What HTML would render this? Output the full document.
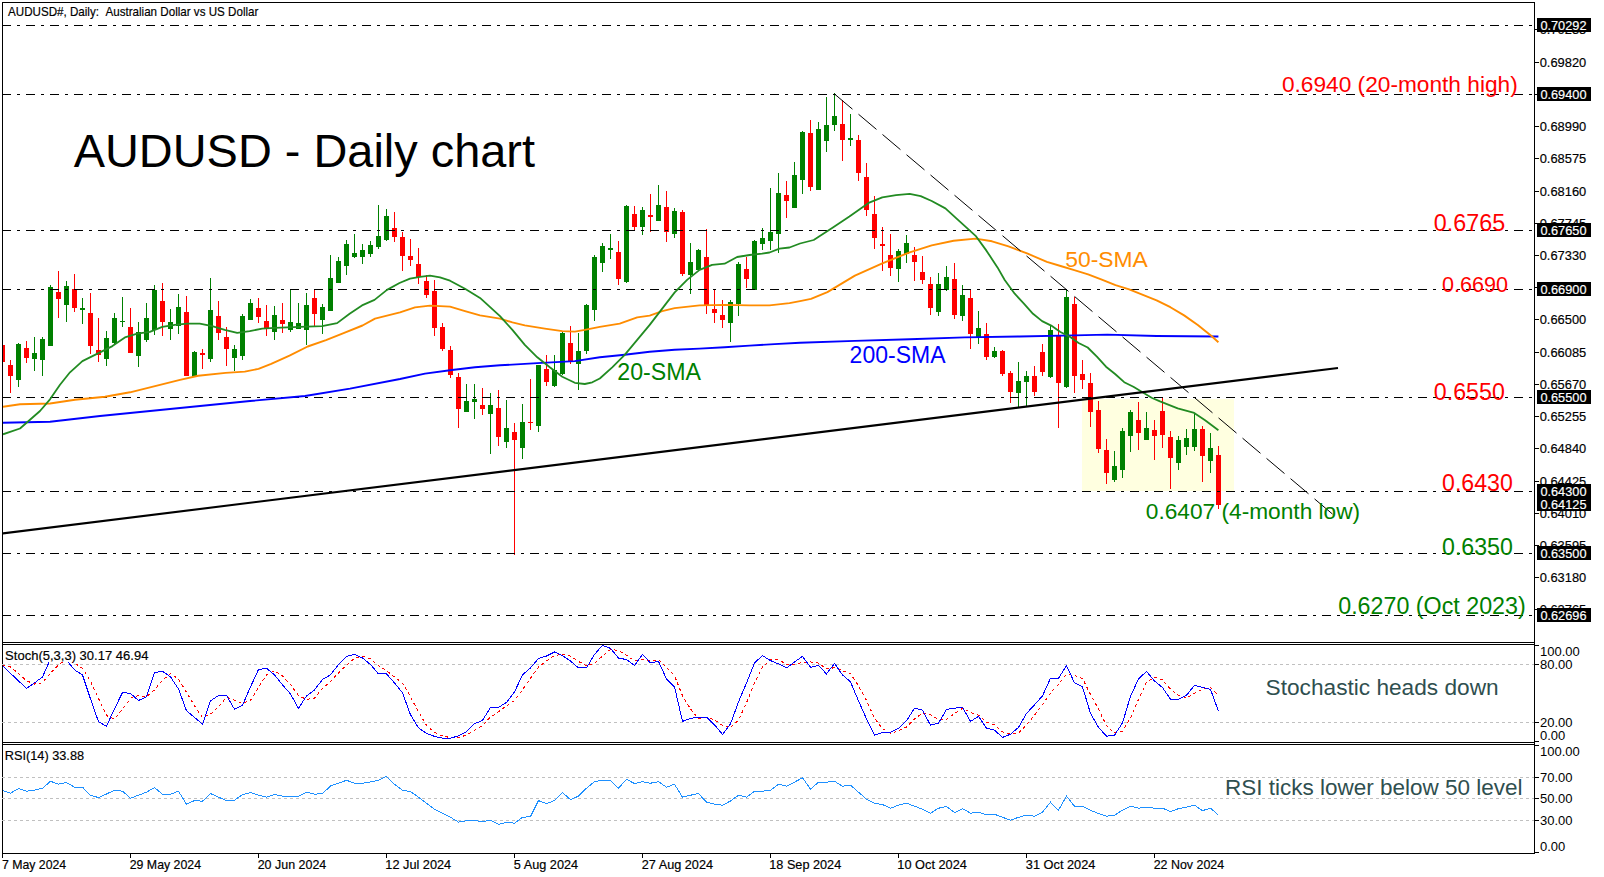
<!DOCTYPE html>
<html lang="en"><head><meta charset="utf-8"><title>AUDUSD - Daily chart</title>
<style>
html,body{margin:0;padding:0;background:#fff;}
body{width:1604px;height:877px;overflow:hidden;}
svg{display:block;}
text{font-family:"Liberation Sans",Arial,sans-serif;}
.s{font-size:13px;fill:#000;}
.w{font-size:13px;fill:#fff;}
.g{stroke:#000;stroke-width:1;stroke-dasharray:9 6 3 6;fill:none;}
.lv{stroke:#c0c0c0;stroke-width:1;stroke-dasharray:3 3;fill:none;}
.b{stroke:#000;stroke-width:1;fill:none;}
.r rect{fill:#f00}.r path{stroke:#f00}
.u rect{fill:#008000}.u path{stroke:#008000}
</style></head><body>
<svg width="1604" height="877" viewBox="0 0 1604 877" shape-rendering="auto">
<rect x="0" y="0" width="1604" height="877" fill="#fff"/>
<defs><clipPath id="cm"><rect x="3" y="3" width="1531" height="639"/></clipPath><clipPath id="cs"><rect x="3" y="645" width="1531" height="97"/></clipPath><clipPath id="cr"><rect x="3" y="745" width="1531" height="108"/></clipPath></defs>
<g clip-path="url(#cm)">
<rect x="1082" y="399" width="152" height="92" fill="#ffffe0"/>
<g class="r" shape-rendering="crispEdges"><path d="M2.5 340V366"/><rect x="0" y="345" width="5" height="17"/><path d="M10.5 360V393"/><rect x="8" y="365" width="5" height="11"/><path d="M26.5 341V363"/><rect x="24" y="348" width="5" height="10"/><path d="M58.5 271V318"/><rect x="56" y="292" width="5" height="7"/><path d="M74.5 274V312"/><rect x="72" y="289" width="5" height="19"/><path d="M90.5 293V354"/><rect x="88" y="313" width="5" height="33"/><path d="M98.5 318V362"/><rect x="96" y="350" width="5" height="5"/><path d="M130.5 308V353"/><rect x="128" y="327" width="5" height="26"/><path d="M162.5 283V336"/><rect x="160" y="301" width="5" height="21"/><path d="M186.5 296V376"/><rect x="184" y="312" width="5" height="64"/><path d="M202.5 349V369"/><rect x="200" y="353" width="5" height="2"/><path d="M218.5 301V340"/><rect x="216" y="316" width="5" height="17"/><path d="M226.5 327V366"/><rect x="224" y="337" width="5" height="12"/><path d="M258.5 298V323"/><rect x="256" y="308" width="5" height="9"/><path d="M266.5 305V336"/><rect x="264" y="321" width="5" height="7"/><path d="M282.5 303V333"/><rect x="280" y="320" width="5" height="4"/><path d="M314.5 289V326"/><rect x="312" y="298" width="5" height="16"/><path d="M394.5 212V242"/><rect x="392" y="228" width="5" height="9"/><path d="M402.5 232V271"/><rect x="400" y="237" width="5" height="19"/><path d="M410.5 239V266"/><rect x="408" y="256" width="5" height="4"/><path d="M418.5 248V284"/><rect x="416" y="264" width="5" height="13"/><path d="M426.5 275V298"/><rect x="424" y="281" width="5" height="14"/><path d="M434.5 280V336"/><rect x="432" y="291" width="5" height="37"/><path d="M442.5 323V351"/><rect x="440" y="327" width="5" height="22"/><path d="M450.5 346V378"/><rect x="448" y="350" width="5" height="25"/><path d="M458.5 373V428"/><rect x="456" y="377" width="5" height="32"/><path d="M482.5 388V415"/><rect x="480" y="405" width="5" height="4"/><path d="M498.5 390V446"/><rect x="496" y="408" width="5" height="29"/><path d="M514.5 423V555"/><rect x="512" y="432" width="5" height="8"/><path d="M530.5 379V430"/><rect x="528" y="422" width="5" height="1"/><path d="M546.5 355V386"/><rect x="544" y="369" width="5" height="13"/><path d="M570.5 326V364"/><rect x="568" y="343" width="5" height="18"/><path d="M618.5 241V285"/><rect x="616" y="252" width="5" height="27"/><path d="M634.5 206V230"/><rect x="632" y="214" width="5" height="13"/><path d="M650.5 194V232"/><rect x="648" y="215" width="5" height="2"/><path d="M666.5 191V242"/><rect x="664" y="207" width="5" height="25"/><path d="M682.5 210V276"/><rect x="680" y="212" width="5" height="62"/><path d="M706.5 229V314"/><rect x="704" y="257" width="5" height="48"/><path d="M714.5 290V323"/><rect x="712" y="309" width="5" height="4"/><path d="M722.5 300V328"/><rect x="720" y="315" width="5" height="5"/><path d="M746.5 257V288"/><rect x="744" y="269" width="5" height="10"/><path d="M786.5 181V218"/><rect x="784" y="195" width="5" height="6"/><path d="M810.5 120V191"/><rect x="808" y="133" width="5" height="54"/><path d="M842.5 100V161"/><rect x="840" y="124" width="5" height="16"/><path d="M858.5 135V181"/><rect x="856" y="140" width="5" height="33"/><path d="M866.5 163V216"/><rect x="864" y="177" width="5" height="33"/><path d="M874.5 196V249"/><rect x="872" y="214" width="5" height="24"/><path d="M882.5 227V271"/><rect x="880" y="244" width="5" height="2"/><path d="M890.5 234V276"/><rect x="888" y="255" width="5" height="13"/><path d="M914.5 247V281"/><rect x="912" y="255" width="5" height="7"/><path d="M922.5 256V284"/><rect x="920" y="272" width="5" height="8"/><path d="M930.5 277V315"/><rect x="928" y="284" width="5" height="24"/><path d="M954.5 263V319"/><rect x="952" y="279" width="5" height="36"/><path d="M970.5 289V349"/><rect x="968" y="298" width="5" height="36"/><path d="M986.5 323V360"/><rect x="984" y="334" width="5" height="23"/><path d="M1002.5 350V376"/><rect x="1000" y="351" width="5" height="23"/><path d="M1010.5 371V403"/><rect x="1008" y="373" width="5" height="19"/><path d="M1034.5 366V396"/><rect x="1032" y="376" width="5" height="16"/><path d="M1042.5 344V376"/><rect x="1040" y="352" width="5" height="20"/><path d="M1058.5 324V428"/><rect x="1056" y="336" width="5" height="47"/><path d="M1074.5 297V393"/><rect x="1072" y="304" width="5" height="72"/><path d="M1082.5 360V389"/><rect x="1080" y="374" width="5" height="6"/><path d="M1090.5 373V427"/><rect x="1088" y="383" width="5" height="29"/><path d="M1098.5 401V453"/><rect x="1096" y="410" width="5" height="39"/><path d="M1106.5 439V484"/><rect x="1104" y="450" width="5" height="23"/><path d="M1138.5 402V450"/><rect x="1136" y="420" width="5" height="13"/><path d="M1154.5 420V460"/><rect x="1152" y="430" width="5" height="6"/><path d="M1162.5 397V448"/><rect x="1160" y="411" width="5" height="24"/><path d="M1170.5 431V489"/><rect x="1168" y="437" width="5" height="21"/><path d="M1202.5 426V482"/><rect x="1200" y="429" width="5" height="27"/><path d="M1218.5 446V509"/><rect x="1216" y="455" width="5" height="50"/></g>
<g class="u" shape-rendering="crispEdges"><path d="M18.5 343V387"/><rect x="16" y="344" width="5" height="36"/><path d="M34.5 337V371"/><rect x="32" y="353" width="5" height="6"/><path d="M42.5 337V376"/><rect x="40" y="339" width="5" height="21"/><path d="M50.5 285V346"/><rect x="48" y="287" width="5" height="59"/><path d="M66.5 281V322"/><rect x="64" y="286" width="5" height="19"/><path d="M82.5 298V324"/><rect x="80" y="308" width="5" height="2"/><path d="M106.5 331V366"/><rect x="104" y="338" width="5" height="21"/><path d="M114.5 313V345"/><rect x="112" y="318" width="5" height="25"/><path d="M122.5 297V327"/><rect x="120" y="321" width="5" height="1"/><path d="M138.5 322V367"/><rect x="136" y="332" width="5" height="24"/><path d="M146.5 303V342"/><rect x="144" y="318" width="5" height="22"/><path d="M154.5 285V335"/><rect x="152" y="290" width="5" height="40"/><path d="M170.5 309V340"/><rect x="168" y="322" width="5" height="7"/><path d="M178.5 294V334"/><rect x="176" y="307" width="5" height="19"/><path d="M194.5 351V377"/><rect x="192" y="352" width="5" height="25"/><path d="M210.5 278V362"/><rect x="208" y="310" width="5" height="49"/><path d="M234.5 345V371"/><rect x="232" y="349" width="5" height="9"/><path d="M242.5 314V360"/><rect x="240" y="316" width="5" height="40"/><path d="M250.5 299V320"/><rect x="248" y="303" width="5" height="17"/><path d="M274.5 306V340"/><rect x="272" y="315" width="5" height="17"/><path d="M290.5 289V332"/><rect x="288" y="322" width="5" height="8"/><path d="M298.5 303V329"/><rect x="296" y="323" width="5" height="6"/><path d="M306.5 293V345"/><rect x="304" y="305" width="5" height="25"/><path d="M322.5 304V334"/><rect x="320" y="307" width="5" height="13"/><path d="M330.5 255V311"/><rect x="328" y="278" width="5" height="33"/><path d="M338.5 257V283"/><rect x="336" y="261" width="5" height="22"/><path d="M346.5 240V275"/><rect x="344" y="244" width="5" height="22"/><path d="M354.5 234V258"/><rect x="352" y="253" width="5" height="4"/><path d="M362.5 244V264"/><rect x="360" y="250" width="5" height="7"/><path d="M370.5 241V257"/><rect x="368" y="245" width="5" height="9"/><path d="M378.5 205V249"/><rect x="376" y="236" width="5" height="11"/><path d="M386.5 209V241"/><rect x="384" y="216" width="5" height="24"/><path d="M466.5 384V412"/><rect x="464" y="401" width="5" height="11"/><path d="M474.5 384V419"/><rect x="472" y="399" width="5" height="3"/><path d="M490.5 393V454"/><rect x="488" y="405" width="5" height="9"/><path d="M506.5 400V448"/><rect x="504" y="428" width="5" height="14"/><path d="M522.5 404V459"/><rect x="520" y="422" width="5" height="26"/><path d="M538.5 365V432"/><rect x="536" y="365" width="5" height="61"/><path d="M554.5 355V387"/><rect x="552" y="370" width="5" height="16"/><path d="M562.5 332V375"/><rect x="560" y="333" width="5" height="41"/><path d="M578.5 333V390"/><rect x="576" y="351" width="5" height="13"/><path d="M586.5 304V354"/><rect x="584" y="305" width="5" height="46"/><path d="M594.5 255V321"/><rect x="592" y="257" width="5" height="53"/><path d="M602.5 243V272"/><rect x="600" y="246" width="5" height="17"/><path d="M610.5 234V259"/><rect x="608" y="248" width="5" height="2"/><path d="M626.5 205V283"/><rect x="624" y="206" width="5" height="76"/><path d="M642.5 207V235"/><rect x="640" y="210" width="5" height="17"/><path d="M658.5 185V221"/><rect x="656" y="205" width="5" height="16"/><path d="M674.5 208V238"/><rect x="672" y="211" width="5" height="23"/><path d="M690.5 243V294"/><rect x="688" y="262" width="5" height="13"/><path d="M698.5 249V270"/><rect x="696" y="250" width="5" height="20"/><path d="M730.5 300V342"/><rect x="728" y="302" width="5" height="21"/><path d="M738.5 262V316"/><rect x="736" y="264" width="5" height="40"/><path d="M754.5 240V290"/><rect x="752" y="241" width="5" height="49"/><path d="M762.5 228V250"/><rect x="760" y="238" width="5" height="6"/><path d="M770.5 188V250"/><rect x="768" y="232" width="5" height="9"/><path d="M778.5 173V253"/><rect x="776" y="193" width="5" height="41"/><path d="M794.5 162V208"/><rect x="792" y="175" width="5" height="33"/><path d="M802.5 131V194"/><rect x="800" y="132" width="5" height="48"/><path d="M818.5 122V190"/><rect x="816" y="129" width="5" height="61"/><path d="M826.5 97V152"/><rect x="824" y="125" width="5" height="16"/><path d="M834.5 93V131"/><rect x="832" y="116" width="5" height="9"/><path d="M850.5 114V146"/><rect x="848" y="138" width="5" height="2"/><path d="M898.5 249V282"/><rect x="896" y="251" width="5" height="18"/><path d="M906.5 235V263"/><rect x="904" y="243" width="5" height="11"/><path d="M938.5 273V316"/><rect x="936" y="284" width="5" height="28"/><path d="M946.5 266V291"/><rect x="944" y="277" width="5" height="13"/><path d="M962.5 285V321"/><rect x="960" y="295" width="5" height="21"/><path d="M978.5 311V344"/><rect x="976" y="328" width="5" height="9"/><path d="M994.5 347V358"/><rect x="992" y="351" width="5" height="6"/><path d="M1018.5 362V407"/><rect x="1016" y="381" width="5" height="12"/><path d="M1026.5 371V406"/><rect x="1024" y="376" width="5" height="6"/><path d="M1050.5 326V378"/><rect x="1048" y="330" width="5" height="47"/><path d="M1066.5 290V388"/><rect x="1064" y="297" width="5" height="90"/><path d="M1114.5 451V482"/><rect x="1112" y="466" width="5" height="14"/><path d="M1122.5 428V478"/><rect x="1120" y="431" width="5" height="39"/><path d="M1130.5 410V452"/><rect x="1128" y="412" width="5" height="24"/><path d="M1146.5 412V440"/><rect x="1144" y="428" width="5" height="12"/><path d="M1178.5 436V470"/><rect x="1176" y="440" width="5" height="23"/><path d="M1186.5 429V455"/><rect x="1184" y="438" width="5" height="9"/><path d="M1194.5 413V451"/><rect x="1192" y="429" width="5" height="18"/><path d="M1210.5 433V473"/><rect x="1208" y="448" width="5" height="13"/></g>
<path class="g" shape-rendering="crispEdges" d="M2 25.5H1534"/>
<path class="g" shape-rendering="crispEdges" d="M2 94.5H1534"/>
<path class="g" shape-rendering="crispEdges" d="M2 230.5H1534"/>
<path class="g" shape-rendering="crispEdges" d="M2 289.5H1534"/>
<path class="g" shape-rendering="crispEdges" d="M2 397.5H1534"/>
<path class="g" shape-rendering="crispEdges" d="M2 491.5H1534"/>
<path class="g" shape-rendering="crispEdges" d="M2 553.5H1534"/>
<path class="g" shape-rendering="crispEdges" d="M2 615.5H1534"/>
<path d="M3 422.8 L50 421.8 L100 416 L150 411 L200 406 L250 401 L305 396 L350 388.6 L400 379 L425 373.6 L450 370.3 L475 367.3 L500 365.3 L537.3 363.1 L574.8 361.1 L599.8 357.3 L624.7 354.8 L649.7 351.8 L674.7 349.8 L699.6 348.6 L724.6 347.3 L749.6 345.6 L774.5 344.1 L800 342.8 L854.9 340.9 L909.7 339.3 L964.6 337.4 L1019.5 336.5 L1074.3 335.4 L1107.3 334.6 L1156.6 336 L1218.4 336.5" fill="none" stroke="#0000ff" stroke-width="1.9" stroke-linejoin="round"/>
<path d="M3 406.8 L20 404.3 L50 403.5 L75 399.8 L105 396.8 L130 392.3 L155 386.1 L180 379.9 L198.2 375.7 L225.6 372.9 L244.8 371.6 L258.5 368.9 L271.2 363.8 L289.5 355.6 L307.7 346.5 L326 340.1 L344.2 332.8 L362.5 325.5 L375 318.6 L400 312.4 L415 307.4 L430 305.6 L450 306.6 L465 311.1 L480 315.4 L500 318.6 L512.4 322.4 L524.8 325.4 L544.8 328.6 L562.3 331.1 L574.8 331.6 L584.8 329.9 L599.8 326.9 L619.7 323.6 L637.2 317.4 L649.7 315.6 L662.2 311.1 L674.7 308.1 L699.6 305.4 L724.6 304.9 L749.6 305.4 L769.5 305.4 L789.5 303.1 L800 301.1 L811 298.9 L827.4 292.1 L854.9 275.6 L882.3 263.3 L909.7 252.3 L931.7 245.4 L953.6 240.8 L975.6 238.6 L992 241.3 L1008.5 246.3 L1027.7 253.7 L1046.9 261.9 L1060.6 266 L1074.3 270.1 L1088.1 274.3 L1101.8 279.7 L1115.5 285.2 L1129.2 289.3 L1142.9 294.8 L1156.6 300.3 L1170.4 307.2 L1184.1 315.4 L1197.8 325 L1211.5 336 L1218.4 342.3" fill="none" stroke="#ff8c00" stroke-width="1.9" stroke-linejoin="round"/>
<path d="M3 434.3 L20 428.5 L30 419.8 L40 411 L50 399.3 L60 384.8 L70 372.3 L82.4 361.1 L100 352.4 L112.4 346.1 L124.9 337.4 L137.3 333.6 L149.8 331.9 L162.3 326.9 L174.8 324.9 L187.3 323.6 L199.8 323.6 L212.2 326.1 L224.7 329.9 L237.2 332.9 L249.7 331.1 L262.2 328.6 L274.7 327.9 L299.6 326.9 L322.1 326.1 L337.1 323.1 L349.6 313.7 L362 305.4 L374.5 299.9 L387 289.9 L399.5 283 L410 278.7 L420 276.9 L430 275.7 L440 277.4 L450 280.7 L465 288.7 L480 297.9 L500 316.1 L512.4 329.9 L524.8 344.8 L537.3 357.3 L549.8 367.3 L562.3 376.8 L574.8 382.8 L584.8 384 L592.3 382.3 L599.8 378.5 L612.2 367.3 L624.7 354.8 L637.2 339.8 L649.7 324.9 L662.2 308.6 L674.7 292.4 L687.1 279.9 L699.6 269.9 L712.1 264.9 L724.6 263.7 L737.1 257 L749.6 255 L762 253.7 L769.5 252.5 L779.5 248.7 L789.5 247.5 L800 243.5 L813.7 240 L832.9 227.6 L849.4 216.6 L868.6 202.9 L882.3 197.4 L896 195.2 L909.7 193.9 L920.7 196.1 L931.7 201 L945.4 208.4 L959.1 220.8 L975.6 235.8 L986.6 250.9 L997.5 267.4 L1004.7 280 L1014.7 293.7 L1023.9 303.7 L1033 313.8 L1042.1 321.1 L1051.2 325.6 L1060.4 332 L1069.5 336.6 L1078.6 343 L1087.7 347.5 L1096.9 356.6 L1106 366.7 L1115.1 374 L1124.2 382.2 L1133.4 386.8 L1142.5 392.2 L1151.6 397.7 L1160 401.4 L1177.7 408.3 L1194.2 412.9 L1205.1 420.2 L1218.4 430.2" fill="none" stroke="#228b22" stroke-width="1.8" stroke-linejoin="round"/>
<path d="M2 533.5L1338 368" stroke="#000" stroke-width="2.1" fill="none"/>
<path d="M834.5 94L1332.8 514.3" stroke="#000" stroke-width="1" stroke-dasharray="23.5 7.9" fill="none"/>
</g>
<path class="b" shape-rendering="crispEdges" d="M2 2.5H1535M2.5 2V854M2 642.5H1535M2 644.5H1535M2 742.5H1535M2 744.5H1535M2 853.5H1535M1534.5 2V854"/>
<path class="lv" shape-rendering="crispEdges" d="M2 664.5H1534M2 722.5H1534"/>
<g clip-path="url(#cs)">
<path d="M2.5 665.5 L10.5 667 L18.5 673.3 L26.5 680.8 L34.5 684 L42.5 682.7 L50.5 672.9 L58.5 664.9 L66.5 659.3 L74.5 662.9 L82.5 668.3 L90.5 681.2 L98.5 698.5 L106.5 715.6 L114.5 718.9 L122.5 709.2 L130.5 698.3 L138.5 695.5 L146.5 696.9 L154.5 689.9 L162.5 680.2 L170.5 673.6 L178.5 679 L186.5 692.2 L194.5 705.7 L202.5 717.5 L210.5 714.2 L218.5 706.8 L226.5 697.3 L234.5 700.1 L242.5 703.3 L250.5 700.5 L258.5 687.2 L266.5 674.9 L274.5 670.9 L282.5 676 L290.5 684.6 L298.5 695.7 L306.5 699.4 L314.5 698.1 L322.5 688.4 L330.5 681.4 L338.5 673 L346.5 665.3 L354.5 658.4 L362.5 656.2 L370.5 659 L378.5 665.5 L386.5 670.8 L394.5 676.9 L402.5 683.2 L410.5 696.9 L418.5 711.8 L426.5 725.3 L434.5 732.5 L442.5 736 L450.5 737.6 L458.5 737.4 L466.5 735.2 L474.5 730.4 L482.5 725.3 L490.5 717.2 L498.5 711.8 L506.5 705.8 L514.5 700.6 L522.5 689.7 L530.5 678.2 L538.5 667.1 L546.5 660.8 L554.5 655.4 L562.5 654.5 L570.5 656.2 L578.5 661.5 L586.5 665.6 L594.5 663.4 L602.5 655.9 L610.5 649.4 L618.5 650.6 L626.5 655.3 L634.5 661 L642.5 659.8 L650.5 661 L658.5 659.6 L666.5 667.7 L674.5 675.7 L682.5 695.7 L690.5 708.9 L698.5 719 L706.5 717.6 L714.5 719.7 L722.5 725.5 L730.5 727.7 L738.5 720 L746.5 702.8 L754.5 682.6 L762.5 667.1 L770.5 659.7 L778.5 660 L786.5 664.1 L794.5 664.6 L802.5 662.1 L810.5 661.9 L818.5 663.1 L826.5 668.9 L834.5 667.7 L842.5 670.8 L850.5 673.5 L858.5 685.9 L866.5 700.5 L874.5 718.3 L882.5 728.8 L890.5 733.2 L898.5 730.9 L906.5 727.1 L914.5 719.1 L922.5 713.1 L930.5 714.6 L938.5 719.5 L946.5 719.3 L954.5 713.6 L962.5 708.4 L970.5 712.4 L978.5 715.1 L986.5 722 L994.5 724.9 L1002.5 731.9 L1010.5 733.9 L1018.5 733 L1026.5 725 L1034.5 715.2 L1042.5 704.7 L1050.5 693 L1058.5 684.2 L1066.5 674.1 L1074.5 675.6 L1082.5 678.4 L1090.5 694.4 L1098.5 709.2 L1106.5 725.7 L1114.5 732.9 L1122.5 731.4 L1130.5 718.1 L1138.5 699.3 L1146.5 682.2 L1154.5 677.1 L1162.5 680 L1170.5 689.2 L1178.5 695.3 L1186.5 697.9 L1194.5 693.3 L1202.5 689.3 L1210.5 687.3 L1218.5 696" fill="none" stroke="#f00" stroke-width="1" stroke-dasharray="3 3" shape-rendering="crispEdges"/>
<path d="M2.5 665.5 L10.5 673.3 L18.5 680.9 L26.5 688.3 L34.5 682.9 L42.5 676.9 L50.5 659 L58.5 659 L66.5 660 L74.5 669.9 L82.5 674.9 L90.5 698.9 L98.5 721.8 L106.5 726.2 L114.5 708.8 L122.5 692.5 L130.5 693.5 L138.5 700.5 L146.5 696.9 L154.5 672.5 L162.5 671.3 L170.5 676.9 L178.5 688.9 L186.5 710.8 L194.5 717.4 L202.5 724.2 L210.5 700.9 L218.5 695.5 L226.5 695.5 L234.5 709.2 L242.5 705.2 L250.5 686.9 L258.5 669.5 L266.5 668.3 L274.5 674.9 L282.5 684.9 L290.5 693.9 L298.5 708.4 L306.5 695.9 L314.5 689.9 L322.5 679.5 L330.5 674.9 L338.5 664.5 L346.5 656.4 L354.5 654.4 L362.5 658 L370.5 664.5 L378.5 673.9 L386.5 673.9 L394.5 682.9 L402.5 692.9 L410.5 714.8 L418.5 727.8 L426.5 733.4 L434.5 736.4 L442.5 738.2 L450.5 738.2 L458.5 735.8 L466.5 731.8 L474.5 723.8 L482.5 720.4 L490.5 707.4 L498.5 707.4 L506.5 702.4 L514.5 691.9 L522.5 674.9 L530.5 667.9 L538.5 658.4 L546.5 656 L554.5 652 L562.5 655.6 L570.5 661 L578.5 667.9 L586.5 667.9 L594.5 654.4 L602.5 645.4 L610.5 648.4 L618.5 658 L626.5 659.6 L634.5 665.5 L642.5 654.4 L650.5 662.9 L658.5 661.4 L666.5 678.9 L674.5 686.9 L682.5 721.4 L690.5 718.4 L698.5 717.2 L706.5 717.2 L714.5 724.8 L722.5 734.4 L730.5 723.8 L738.5 701.9 L746.5 682.9 L754.5 662.9 L762.5 655.6 L770.5 660.6 L778.5 663.9 L786.5 667.9 L794.5 662 L802.5 656.4 L810.5 667.3 L818.5 665.5 L826.5 673.9 L834.5 663.5 L842.5 674.9 L850.5 681.9 L858.5 700.9 L866.5 718.8 L874.5 735.2 L882.5 732.4 L890.5 732.2 L898.5 728.2 L906.5 720.8 L914.5 708.2 L922.5 710.2 L930.5 725.2 L938.5 723.2 L946.5 709.4 L954.5 708.2 L962.5 707.4 L970.5 721.4 L978.5 716.4 L986.5 728.2 L994.5 730.2 L1002.5 737.4 L1010.5 734.2 L1018.5 727.4 L1026.5 713.4 L1034.5 704.8 L1042.5 695.9 L1050.5 678.3 L1058.5 678.3 L1066.5 665.5 L1074.5 682.9 L1082.5 686.9 L1090.5 713.4 L1098.5 727.4 L1106.5 736.2 L1114.5 735.2 L1122.5 722.8 L1130.5 696.3 L1138.5 678.9 L1146.5 671.5 L1154.5 680.9 L1162.5 687.5 L1170.5 699.3 L1178.5 699.3 L1186.5 695.3 L1194.5 685.3 L1202.5 687.3 L1210.5 689.3 L1218.5 711.4" fill="none" stroke="#0000ff" stroke-width="1" shape-rendering="crispEdges"/>
</g>
<path class="lv" shape-rendering="crispEdges" d="M2 777.5H1534M2 798.5H1534M2 820.5H1534"/>
<g clip-path="url(#cr)">
<path d="M2.5 790.6 L10.5 793.2 L18.5 788.6 L26.5 791.2 L34.5 790.2 L42.5 788.2 L50.5 781.3 L58.5 784.2 L66.5 782.6 L74.5 787.2 L82.5 787.2 L90.5 795.2 L98.5 797.6 L106.5 794 L114.5 790.2 L122.5 791.2 L130.5 798.2 L138.5 795.2 L146.5 792.2 L154.5 787.6 L162.5 794.2 L170.5 794.2 L178.5 791.2 L186.5 804.2 L194.5 800.6 L202.5 801.2 L210.5 793.6 L218.5 797.2 L226.5 800.6 L234.5 800.2 L242.5 794.6 L250.5 792.6 L258.5 795.2 L266.5 797.2 L274.5 794.6 L282.5 796.2 L290.5 796.2 L298.5 796.2 L306.5 792.2 L314.5 794.2 L322.5 793.6 L330.5 786 L338.5 783.2 L346.5 780.3 L354.5 783.2 L362.5 783.2 L370.5 782 L378.5 780.1 L386.5 776.3 L394.5 784.2 L402.5 790.2 L410.5 791.6 L418.5 797.2 L426.5 803.2 L434.5 809.2 L442.5 813.2 L450.5 817.3 L458.5 822.1 L466.5 820.7 L474.5 820.7 L482.5 821.5 L490.5 820.4 L498.5 824.4 L506.5 822.4 L514.5 823.2 L522.5 817.3 L530.5 816.6 L538.5 800.6 L546.5 803.6 L554.5 800.6 L562.5 792.6 L570.5 799.6 L578.5 796.2 L586.5 788.2 L594.5 781.7 L602.5 780.3 L610.5 780.3 L618.5 788.2 L626.5 779.3 L634.5 783.6 L642.5 781.7 L650.5 783.2 L658.5 781.7 L666.5 787.2 L674.5 784.2 L682.5 797.2 L690.5 795.2 L698.5 793.6 L706.5 802.2 L714.5 804.2 L722.5 805.2 L730.5 801 L738.5 795.2 L746.5 797.2 L754.5 791.2 L762.5 791.2 L770.5 790.2 L778.5 784.2 L786.5 786.2 L794.5 782.2 L802.5 777.7 L810.5 789.2 L818.5 782.2 L826.5 782.2 L834.5 781.3 L842.5 786.2 L850.5 785.2 L858.5 792.2 L866.5 799.2 L874.5 803.2 L882.5 804.6 L890.5 808.2 L898.5 805.2 L906.5 803.2 L914.5 806.2 L922.5 809.2 L930.5 813.2 L938.5 808.2 L946.5 806.6 L954.5 812.6 L962.5 808.6 L970.5 813.2 L978.5 812.2 L986.5 814.8 L994.5 814.2 L1002.5 817.3 L1010.5 820.1 L1018.5 817.3 L1026.5 815.2 L1034.5 816.2 L1042.5 812.2 L1050.5 802.2 L1058.5 810.2 L1066.5 796.2 L1074.5 806.2 L1082.5 806.2 L1090.5 810.2 L1098.5 813.6 L1106.5 816.2 L1114.5 815.2 L1122.5 810.2 L1130.5 806.2 L1138.5 808.2 L1146.5 807.2 L1154.5 808.2 L1162.5 808.2 L1170.5 811.6 L1178.5 808.6 L1186.5 807.2 L1194.5 805.2 L1202.5 810.6 L1210.5 808.2 L1218.5 815.2" fill="none" stroke="#1e90ff" stroke-width="1" shape-rendering="crispEdges"/>
</g>
<path class="b" shape-rendering="crispEdges" d="M1535 29.5H1539M1535 62.5H1539M1535 94.5H1539M1535 126.5H1539M1535 158.5H1539M1535 191.5H1539M1535 223.5H1539M1535 255.5H1539M1535 287.5H1539M1535 319.5H1539M1535 352.5H1539M1535 384.5H1539M1535 416.5H1539M1535 448.5H1539M1535 481.5H1539M1535 513.5H1539M1535 545.5H1539M1535 577.5H1539M1535 609.5H1539"/>
<text x="1539.7" y="34" font-size="13" fill="#000" stroke="#000" stroke-width="0.18" textLength="46.6" lengthAdjust="spacingAndGlyphs">0.70235</text>
<text x="1539.7" y="67" font-size="13" fill="#000" stroke="#000" stroke-width="0.18" textLength="46.6" lengthAdjust="spacingAndGlyphs">0.69820</text>
<text x="1539.7" y="99" font-size="13" fill="#000" stroke="#000" stroke-width="0.18" textLength="46.6" lengthAdjust="spacingAndGlyphs">0.69405</text>
<text x="1539.7" y="131" font-size="13" fill="#000" stroke="#000" stroke-width="0.18" textLength="46.6" lengthAdjust="spacingAndGlyphs">0.68990</text>
<text x="1539.7" y="163" font-size="13" fill="#000" stroke="#000" stroke-width="0.18" textLength="46.6" lengthAdjust="spacingAndGlyphs">0.68575</text>
<text x="1539.7" y="196" font-size="13" fill="#000" stroke="#000" stroke-width="0.18" textLength="46.6" lengthAdjust="spacingAndGlyphs">0.68160</text>
<text x="1539.7" y="228" font-size="13" fill="#000" stroke="#000" stroke-width="0.18" textLength="46.6" lengthAdjust="spacingAndGlyphs">0.67745</text>
<text x="1539.7" y="260" font-size="13" fill="#000" stroke="#000" stroke-width="0.18" textLength="46.6" lengthAdjust="spacingAndGlyphs">0.67330</text>
<text x="1539.7" y="292" font-size="13" fill="#000" stroke="#000" stroke-width="0.18" textLength="46.6" lengthAdjust="spacingAndGlyphs">0.66915</text>
<text x="1539.7" y="324" font-size="13" fill="#000" stroke="#000" stroke-width="0.18" textLength="46.6" lengthAdjust="spacingAndGlyphs">0.66500</text>
<text x="1539.7" y="357" font-size="13" fill="#000" stroke="#000" stroke-width="0.18" textLength="46.6" lengthAdjust="spacingAndGlyphs">0.66085</text>
<text x="1539.7" y="389" font-size="13" fill="#000" stroke="#000" stroke-width="0.18" textLength="46.6" lengthAdjust="spacingAndGlyphs">0.65670</text>
<text x="1539.7" y="421" font-size="13" fill="#000" stroke="#000" stroke-width="0.18" textLength="46.6" lengthAdjust="spacingAndGlyphs">0.65255</text>
<text x="1539.7" y="453" font-size="13" fill="#000" stroke="#000" stroke-width="0.18" textLength="46.6" lengthAdjust="spacingAndGlyphs">0.64840</text>
<text x="1539.7" y="486" font-size="13" fill="#000" stroke="#000" stroke-width="0.18" textLength="46.6" lengthAdjust="spacingAndGlyphs">0.64425</text>
<text x="1539.7" y="518" font-size="13" fill="#000" stroke="#000" stroke-width="0.18" textLength="46.6" lengthAdjust="spacingAndGlyphs">0.64010</text>
<text x="1539.7" y="550" font-size="13" fill="#000" stroke="#000" stroke-width="0.18" textLength="46.6" lengthAdjust="spacingAndGlyphs">0.63595</text>
<text x="1539.7" y="582" font-size="13" fill="#000" stroke="#000" stroke-width="0.18" textLength="46.6" lengthAdjust="spacingAndGlyphs">0.63180</text>
<text x="1539.7" y="614" font-size="13" fill="#000" stroke="#000" stroke-width="0.18" textLength="46.6" lengthAdjust="spacingAndGlyphs">0.62765</text>
<rect x="1537" y="18" width="54" height="14" fill="#000"/>
<text x="1540.4" y="30" font-size="13" fill="#fff" stroke="#fff" stroke-width="0.18" textLength="46.1" lengthAdjust="spacingAndGlyphs">0.70292</text>
<rect x="1537" y="87" width="54" height="14" fill="#000"/>
<text x="1540.4" y="99" font-size="13" fill="#fff" stroke="#fff" stroke-width="0.18" textLength="46.1" lengthAdjust="spacingAndGlyphs">0.69400</text>
<rect x="1537" y="223" width="54" height="14" fill="#000"/>
<text x="1540.4" y="235" font-size="13" fill="#fff" stroke="#fff" stroke-width="0.18" textLength="46.1" lengthAdjust="spacingAndGlyphs">0.67650</text>
<rect x="1537" y="282" width="54" height="14" fill="#000"/>
<text x="1540.4" y="294" font-size="13" fill="#fff" stroke="#fff" stroke-width="0.18" textLength="46.1" lengthAdjust="spacingAndGlyphs">0.66900</text>
<rect x="1537" y="390" width="54" height="14" fill="#000"/>
<text x="1540.4" y="402" font-size="13" fill="#fff" stroke="#fff" stroke-width="0.18" textLength="46.1" lengthAdjust="spacingAndGlyphs">0.65500</text>
<rect x="1537" y="484" width="54" height="14" fill="#000"/>
<text x="1540.4" y="496" font-size="13" fill="#fff" stroke="#fff" stroke-width="0.18" textLength="46.1" lengthAdjust="spacingAndGlyphs">0.64300</text>
<rect x="1537" y="497" width="54" height="14" fill="#000"/>
<text x="1540.4" y="509" font-size="13" fill="#fff" stroke="#fff" stroke-width="0.18" textLength="46.1" lengthAdjust="spacingAndGlyphs">0.64125</text>
<rect x="1537" y="546" width="54" height="14" fill="#000"/>
<text x="1540.4" y="558" font-size="13" fill="#fff" stroke="#fff" stroke-width="0.18" textLength="46.1" lengthAdjust="spacingAndGlyphs">0.63500</text>
<rect x="1537" y="608" width="54" height="14" fill="#000"/>
<text x="1540.4" y="620" font-size="13" fill="#fff" stroke="#fff" stroke-width="0.18" textLength="46.1" lengthAdjust="spacingAndGlyphs">0.62696</text>
<text class="s" x="1540" y="656">100.00</text>
<text class="s" x="1540" y="669">80.00</text>
<text class="s" x="1540" y="727">20.00</text>
<text class="s" x="1540" y="740">0.00</text>
<text class="s" x="1540" y="756">100.00</text>
<text class="s" x="1540" y="782">70.00</text>
<text class="s" x="1540" y="803">50.00</text>
<text class="s" x="1540" y="825">30.00</text>
<text class="s" x="1540" y="851">0.00</text>
<path class="b" shape-rendering="crispEdges" d="M1535 645.5H1539M1535 664.5H1539M1535 722.5H1539M1535 741.5H1539M1535 745.5H1539M1535 777.5H1539M1535 798.5H1539M1535 820.5H1539M1535 852.5H1539"/>
<text x="1.9" y="869" font-size="13" fill="#000" stroke="#000" stroke-width="0.18" textLength="64.3" lengthAdjust="spacingAndGlyphs">7 May 2024</text>
<text x="129.7" y="869" font-size="13" fill="#000" stroke="#000" stroke-width="0.18" textLength="71.4" lengthAdjust="spacingAndGlyphs">29 May 2024</text>
<text x="257.7" y="869" font-size="13" fill="#000" stroke="#000" stroke-width="0.18" textLength="68.6" lengthAdjust="spacingAndGlyphs">20 Jun 2024</text>
<text x="385.3" y="869" font-size="13" fill="#000" stroke="#000" stroke-width="0.18" textLength="65.9" lengthAdjust="spacingAndGlyphs">12 Jul 2024</text>
<text x="513.8" y="869" font-size="13" fill="#000" stroke="#000" stroke-width="0.18" textLength="64.3" lengthAdjust="spacingAndGlyphs">5 Aug 2024</text>
<text x="641.7" y="869" font-size="13" fill="#000" stroke="#000" stroke-width="0.18" textLength="71.4" lengthAdjust="spacingAndGlyphs">27 Aug 2024</text>
<text x="769.3" y="869" font-size="13" fill="#000" stroke="#000" stroke-width="0.18" textLength="71.9" lengthAdjust="spacingAndGlyphs">18 Sep 2024</text>
<text x="897.3" y="869" font-size="13" fill="#000" stroke="#000" stroke-width="0.18" textLength="69.6" lengthAdjust="spacingAndGlyphs">10 Oct 2024</text>
<text x="1025.8" y="869" font-size="13" fill="#000" stroke="#000" stroke-width="0.18" textLength="69.6" lengthAdjust="spacingAndGlyphs">31 Oct 2024</text>
<text x="1153.7" y="869" font-size="13" fill="#000" stroke="#000" stroke-width="0.18" textLength="70.5" lengthAdjust="spacingAndGlyphs">22 Nov 2024</text>
<path class="b" shape-rendering="crispEdges" d="M2.5 854V858M130.5 854V858M258.5 854V858M386.5 854V858M514.5 854V858M642.5 854V858M770.5 854V858M898.5 854V858M1026.5 854V858M1154.5 854V858"/>
<text x="8.0" y="16" font-size="13" fill="#000" stroke="#000" stroke-width="0.18" textLength="250.4" lengthAdjust="spacingAndGlyphs">AUDUSD#, Daily:&#160;&#160;Australian Dollar vs US Dollar</text>
<rect x="3" y="645" width="146" height="17" fill="#fff"/>
<text x="5.1" y="660" font-size="13" fill="#000" stroke="#000" stroke-width="0.18" textLength="143.3" lengthAdjust="spacingAndGlyphs">Stoch(5,3,3) 30.17 46.94</text>
<text x="4.7" y="760" font-size="13" fill="#000" stroke="#000" stroke-width="0.18" textLength="79.4" lengthAdjust="spacingAndGlyphs">RSI(14) 33.88</text>
<text x="73.7" y="167" font-size="46.92" fill="#000">AUDUSD - Daily chart</text>
<text x="1281.9" y="92.3" font-size="22.69" fill="#f00">0.6940 (20-month high)</text>
<text x="1433.8" y="230.8" font-size="23.33" fill="#f00">0.6765</text>
<text x="1441.9" y="291.6" font-size="21.59" fill="#f00">0.6690</text>
<text x="1433.8" y="399.6" font-size="23.23" fill="#f00">0.6550</text>
<text x="1442.0" y="491.2" font-size="23.16" fill="#f00">0.6430</text>
<text x="1442.0" y="555.1" font-size="23.16" fill="#008000">0.6350</text>
<text x="1338.2" y="613.7" font-size="23.28" fill="#008000">0.6270 (Oct 2023)</text>
<text x="1145.8" y="518.6" font-size="22.70" fill="#008000">0.6407 (4-month low)</text>
<text x="617.3" y="379.8" font-size="23.16" fill="#008000">20-SMA</text>
<text x="1065.2" y="267.4" font-size="22.88" fill="#ff8c00">50-SMA</text>
<text x="849.6" y="363.4" font-size="23.00" fill="#0000ff">200-SMA</text>
<text x="1265.6" y="694.6" font-size="22.67" fill="#2f4f4f">Stochastic heads down</text>
<text x="1225.0" y="795.4" font-size="22.50" fill="#2f4f4f">RSI ticks lower below 50 level</text>
</svg></body></html>
